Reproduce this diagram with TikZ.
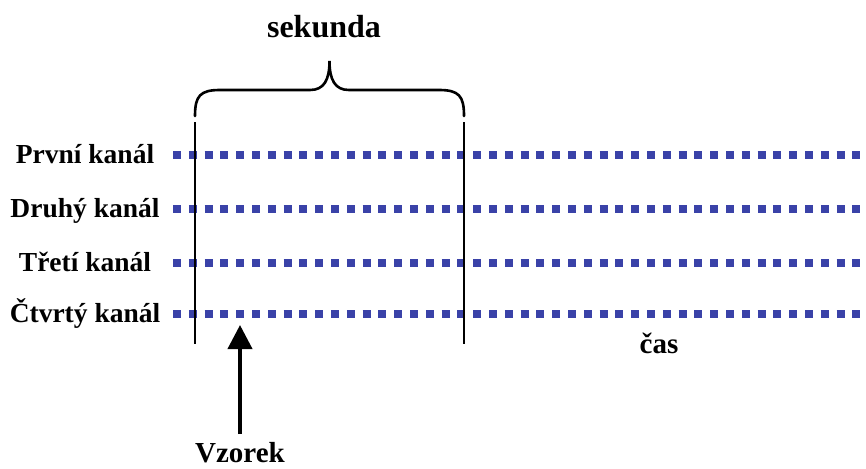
\documentclass[tikz,border=0pt]{standalone}
\usepackage{fontspec}
\setmainfont{Liberation Serif}
\usetikzlibrary{arrows.meta}
\definecolor{dotblue}{RGB}{58,66,168}
\tikzset{
  lbl/.style={font=\fontsize{27.5}{30}\selectfont\bfseries, anchor=base, inner sep=0pt},
  dotrow/.style={dotblue, line width=8pt, dash pattern=on 8pt off 7.8pt},
  bound/.style={black, line width=2.6pt},
  brace/.style={black, line width=2.6pt, line cap=round},
  sample/.style={black, line width=4pt, -{Triangle[length=24pt,width=24pt]}}
}
\begin{document}
\begin{tikzpicture}[x=1pt,y=-1pt]
\useasboundingbox (0,0) rectangle (866,468);
% labels
\node[lbl] (l1) at (85,163) {První kanál};
\node[lbl] (l2) at (85,217) {Druhý kanál};
\node[lbl] (l3) at (85,271) {Třetí kanál};
\node[lbl] (l4) at (85,322) {Čtvrtý kanál};
% row coordinates
\coordinate (s1) at (173,155); \coordinate (e1) at (866,155);
\coordinate (s2) at (173,209); \coordinate (e2) at (866,209);
\coordinate (s3) at (173,263); \coordinate (e3) at (866,263);
\coordinate (s4) at (173,314); \coordinate (e4) at (866,314);
\foreach \i in {1,2,3,4} \draw[dotrow] (s\i) -- (e\i);
% vertical bounds
\coordinate (vt1) at (195,122); \coordinate (vb1) at (195,344);
\coordinate (vt2) at (464,122); \coordinate (vb2) at (464,344);
\draw[bound] (vt1) -- (vb1);
\draw[bound] (vt2) -- (vb2);
% brace
\coordinate (bl) at (195,116);
\coordinate (br) at (464,116);
\coordinate (bt) at (329.5,61);
\draw[brace] (bl) .. controls (195,96) and (200,90) .. (220,90)
  -- (310,90) .. controls (324,90) and (329.5,80) .. (bt)
  .. controls (329.5,80) and (335,90) .. (349,90)
  -- (439,90) .. controls (459,90) and (464,96) .. (br);
\node[lbl, font=\fontsize{32}{34}\selectfont\bfseries] (sek) at (324,38) {sekunda};
% sample arrow
\node[lbl, font=\fontsize{29}{32}\selectfont\bfseries] (vz) at (240,462) {Vzorek};
\coordinate (ab) at (240,434);
\coordinate (at) at (240,325);
\draw[sample] (ab) -- (at);
% time
\node[lbl, font=\fontsize{29}{32}\selectfont\bfseries] (cas) at (659,353) {čas};
\end{tikzpicture}
\end{document}
